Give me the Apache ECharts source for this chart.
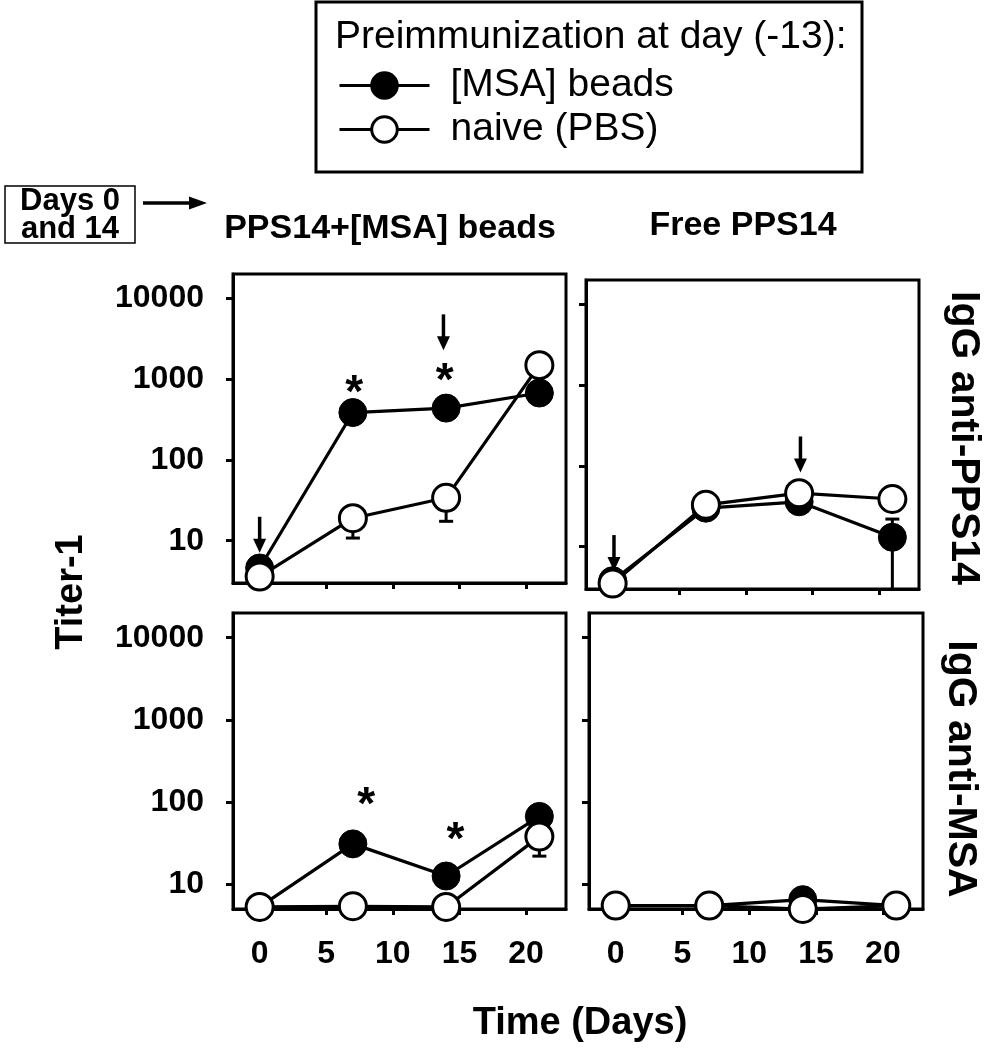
<!DOCTYPE html>
<html><head><meta charset="utf-8">
<script src="https://cdn.jsdelivr.net/npm/echarts@6/dist/echarts.min.js"></script>
<style>html,body{margin:0;padding:0;background:#fff}#c{width:993px;height:1050px}</style>
</head><body><div id="c"></div>
<script>
// ---------- DATA ----------
const days = [0, 7, 14, 21];
const xTicks = [0, 5, 10, 15, 20];
const yTicks = [10, 100, 1000, 10000];
const seriesNames = ['[MSA] beads', 'naive (PBS)'];
const colTitles = ['PPS14+[MSA] beads', 'Free PPS14'];
const rowTitles = ['IgG anti-PPS14', 'IgG anti-MSA'];
const legendTitle = 'Preimmunization at day (-13):';
const yTitle = 'Titer-1';
const xTitle = 'Time (Days)';
const boxText = 'Days 0\nand 14';

// Top-left: IgG anti-PPS14, PPS14+[MSA] beads
const tlBeads = [4.6, 386, 438, 673];
const tlNaive = [3.6, 19, 34, 1490];
const tlBeadsErr = [];
const tlNaiveErr = [[7, 10.8, 19], [14, 17.4, 34]];
// Top-right: IgG anti-PPS14, Free PPS14
const trBeads = [3.8, 30, 36, 13.1];
const trNaive = [3.5, 33, 46, 39];
const trBeadsErr = [[7, 27, 30], [14, 31, 36], [21, 1, 22]];
const trNaiveErr = [];
// Bottom-left: IgG anti-MSA, PPS14+[MSA] beads
const blBeads = [5.3, 31, 12.6, 67];
const blNaive = [5.3, 5.4, 5.3, 38];
const blBeadsErr = [];
const blNaiveErr = [[21, 22, 38]];
// Bottom-right: IgG anti-MSA, Free PPS14
const brBeads = [5.5, 5.5, 6.5, 5.5];
const brNaive = [5.5, 5.5, 5.0, 5.5];
const brBeadsErr = [];
const brNaiveErr = [];
// Annotations (data coordinates)
const tlStars = [[7.1, 885], [13.9, 1235]];
const blStars = [[8, 121], [14.7, 46]];
const tlArrows = [[0, 7.1], [13.8, 2270]];
const trArrows = [[0.1, 5.0], [14.1, 83]];

// ---------- CHART ----------
const FONT = 'Liberation Sans';
const chart = echarts.init(document.getElementById('c'), null, {renderer: 'canvas'});

const grids = [
  {left: 233, top: 274, width: 333, height: 309},
  {left: 586, top: 280, width: 333, height: 309},
  {left: 233, top: 613, width: 333, height: 296},
  {left: 589, top: 613, width: 334, height: 296}
];
const yMins = [3, 3, 5, 5];
const yMax = 20000;

const xAxes = grids.map((g, i) => ({
  type: 'value', gridIndex: i, min: -2, max: 23,
  axisLine: {onZero: false, lineStyle: {color: '#000', width: 3}},
  axisTick: {customValues: xTicks, length: 6, lineStyle: {color: '#000', width: 3}},
  axisLabel: i >= 2 ? {customValues: xTicks, margin: 29, fontSize: 32, fontWeight: 'bold', color: '#000', fontFamily: FONT, formatter: v => String(v)} : {show: false},
  splitLine: {show: false}
}));
const yAxes = grids.map((g, i) => ({
  type: 'log', logBase: 10, gridIndex: i, min: yMins[i], max: yMax,
  axisLine: {onZero: false, lineStyle: {color: '#000', width: 3}},
  axisTick: {customValues: yTicks, length: 7, lineStyle: {color: '#000', width: 3}},
  axisLabel: (i % 2 === 0) ? {customValues: yTicks, margin: 29, fontSize: 32, fontWeight: 'bold', color: '#000', fontFamily: FONT, formatter: v => String(Math.round(v))} : {show: false},
  splitLine: {show: false}
}));

function toPts(arr) { return days.map((d, k) => [d, arr[k]]); }

function errRender(params, api) {
  const x = api.value(0), lo = api.value(1), hi = api.value(2);
  const a = api.coord([x, lo]), b = api.coord([x, hi]);
  const cap = 7, st = {stroke: '#000', lineWidth: 3};
  return {type: 'group', children: [
    {type: 'line', shape: {x1: a[0], y1: a[1], x2: b[0], y2: b[1]}, style: st},
    {type: 'line', shape: {x1: a[0] - cap, y1: a[1], x2: a[0] + cap, y2: a[1]}, style: st},
    {type: 'line', shape: {x1: b[0] - cap, y1: b[1], x2: b[0] + cap, y2: b[1]}, style: st}
  ]};
}
function starRender(params, api) {
  const p = api.coord([api.value(0), api.value(1)]);
  const fs = 46;
  return {type: 'text', x: p[0], y: p[1] + fs * 0.24, style: {text: '*', fontSize: fs, fontWeight: 'bold', fontFamily: FONT, fill: '#000', align: 'center', verticalAlign: 'middle'}};
}
function arrowRender(params, api) {
  const p = api.coord([api.value(0), api.value(1)]);
  const st = {stroke: '#000', lineWidth: 3.5};
  return {type: 'group', children: [
    {type: 'line', shape: {x1: p[0], y1: p[1] - 36, x2: p[0], y2: p[1] - 12}, style: st},
    {type: 'polygon', shape: {points: [[p[0] - 6.5, p[1] - 14], [p[0] + 6.5, p[1] - 14], [p[0], p[1]]]}, style: {fill: '#000'}}
  ]};
}

const panels = [
  {beads: tlBeads, naive: tlNaive, be: tlBeadsErr, ne: tlNaiveErr, stars: tlStars, arrows: tlArrows},
  {beads: trBeads, naive: trNaive, be: trBeadsErr, ne: trNaiveErr, stars: [], arrows: trArrows},
  {beads: blBeads, naive: blNaive, be: blBeadsErr, ne: blNaiveErr, stars: blStars, arrows: []},
  {beads: brBeads, naive: brNaive, be: brBeadsErr, ne: brNaiveErr, stars: [], arrows: []}
];

const series = [];
panels.forEach((p, i) => {
  const errs = p.be.concat(p.ne);
  if (errs.length) series.push({type: 'custom', xAxisIndex: i, yAxisIndex: i, data: errs, renderItem: errRender, clip: true, z: 1, silent: true});
  series.push({
    type: 'line', name: seriesNames[0], xAxisIndex: i, yAxisIndex: i, data: toPts(p.beads),
    symbol: 'circle', symbolSize: 28, z: 2,
    lineStyle: {color: '#000', width: 3.2},
    itemStyle: {color: '#000', borderColor: '#000', borderWidth: 1}
  });
  series.push({
    type: 'line', name: seriesNames[1], xAxisIndex: i, yAxisIndex: i, data: toPts(p.naive),
    symbol: 'circle', symbolSize: 27, z: 3,
    lineStyle: {color: '#000', width: 3.2},
    itemStyle: {color: '#fff', borderColor: '#000', borderWidth: 3}
  });
  if (p.stars.length) series.push({type: 'custom', xAxisIndex: i, yAxisIndex: i, data: p.stars, renderItem: starRender, z: 4, silent: true});
  if (p.arrows.length) series.push({type: 'custom', xAxisIndex: i, yAxisIndex: i, data: p.arrows, renderItem: arrowRender, z: 4, silent: true});
});

const bold = (s, fs) => ({text: s, fontSize: fs, fontWeight: 'bold', fontFamily: FONT, fill: '#000', align: 'center', verticalAlign: 'middle'});

chart.setOption({
  animation: false,
  backgroundColor: '#fff',
  textStyle: {fontFamily: FONT, color: '#000'},
  grid: grids.map(g => Object.assign({show: true, borderColor: '#000', borderWidth: 3, backgroundColor: 'transparent'}, g)),
  xAxis: xAxes,
  yAxis: yAxes,
  legend: {
    data: seriesNames, orient: 'vertical', left: 333, top: 61,
    itemWidth: 90, itemHeight: 32, itemGap: 5,
    textStyle: {fontSize: 39, color: '#000', fontFamily: FONT, padding: [0, 0, 0, 16]},
    itemStyle: {borderWidth: 3}, lineStyle: {width: 3, color: '#000'},
    selectedMode: false
  },
  series: series,
  graphic: [
    {type: 'rect', shape: {x: 316, y: 2, width: 546, height: 170}, style: {fill: 'none', stroke: '#000', lineWidth: 3}},
    {type: 'text', x: 335, y: 37, style: {text: legendTitle, fontSize: 39, fontFamily: FONT, fill: '#000', align: 'left', verticalAlign: 'middle'}},
    {type: 'rect', shape: {x: 5, y: 186, width: 130, height: 57}, style: {fill: 'none', stroke: '#000', lineWidth: 1.5}},
    {type: 'text', x: 70, y: 215, style: Object.assign(bold(boxText, 31), {lineHeight: 28})},
    {type: 'line', shape: {x1: 143, y1: 203, x2: 194, y2: 203}, style: {stroke: '#000', lineWidth: 3.5}},
    {type: 'polygon', shape: {points: [[189, 196.5], [207, 203], [189, 209.5]]}, style: {fill: '#000'}},
    {type: 'text', x: 390, y: 229, style: bold(colTitles[0], 34)},
    {type: 'text', x: 743, y: 226, style: bold(colTitles[1], 34)},
    {type: 'text', x: 963, y: 438, rotation: -Math.PI / 2, style: bold(rowTitles[0], 41)},
    {type: 'text', x: 960, y: 769, rotation: -Math.PI / 2, style: bold(rowTitles[1], 41)},
    {type: 'text', x: 72, y: 592, rotation: Math.PI / 2, style: bold(yTitle, 38)},
    {type: 'text', x: 580, y: 1024, style: bold(xTitle, 38)}
  ]
});
</script>
</body></html>
